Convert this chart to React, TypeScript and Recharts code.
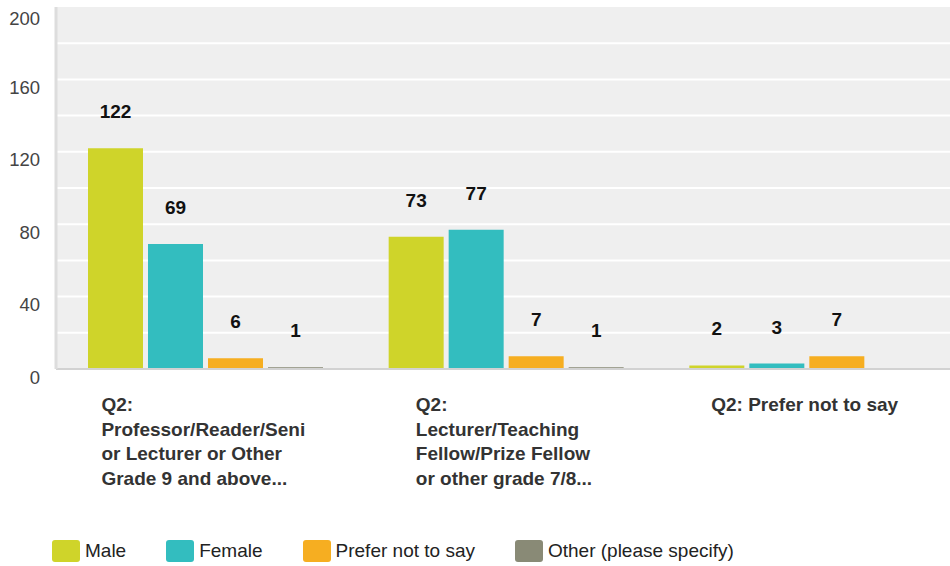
import { Bar, BarChart, CartesianGrid, LabelList, XAxis, YAxis } from "recharts"

const categories = [
  "Q2: Professor/Reader/Senior Lecturer or Other Grade 9 and above...",
  "Q2: Lecturer/Teaching Fellow/Prize Fellow or other grade 7/8...",
  "Q2: Prefer not to say",
]

// wrapped tick text as shown under each group
const tickLines = [
  ["Q2:", "Professor/Reader/Seni", "or Lecturer or Other", "Grade 9 and above..."],
  ["Q2:", "Lecturer/Teaching", "Fellow/Prize Fellow", "or other grade 7/8..."],
  ["Q2: Prefer not to say"],
]

const male = [122, 73, 2]
const female = [69, 77, 3]
const preferNot = [6, 7, 7]
const other = [1, 1, null]

const yTicks = [0, 40, 80, 120, 160, 200]
const gridValues = [20, 40, 60, 80, 100, 120, 140, 160, 180]

const series = [
  { key: "male", name: "Male", color: "#CFD42A" },
  { key: "female", name: "Female", color: "#33BDBF" },
  { key: "prefer", name: "Prefer not to say", color: "#F6AE21" },
  { key: "other", name: "Other (please specify)", color: "#898A76" },
]

const data = categories.map((name, i) => ({
  name,
  male: male[i],
  female: female[i],
  prefer: preferNot[i],
  other: other[i],
}))

const FONT = "'Liberation Sans', Arial, sans-serif"
const TICK_SIZE = 19
const TICK_FONT = `bold ${TICK_SIZE}px ${FONT}`

let ctx: CanvasRenderingContext2D | null = null
function measure(s: string) {
  if (!ctx) ctx = document.createElement("canvas").getContext("2d")
  if (!ctx) return s.length * 10
  ctx.font = TICK_FONT
  return ctx.measureText(s).width
}

function CategoryTick(props: any) {
  const { x, y, index } = props
  const lines = tickLines[index] || []
  const w = Math.max(...lines.map(measure))
  const x0 = x - w / 2 - 3
  return (
    <text
      x={x0}
      y={y}
      fill="#333333"
      fontFamily={FONT}
      fontSize={TICK_SIZE}
      fontWeight="bold"
      textAnchor="start"
    >
      {lines.map((l, i) => (
        <tspan key={i} x={x0} y={y + 40 + i * 24.7}>
          {l}
        </tspan>
      ))}
    </text>
  )
}

export default function App() {
  return (
    <div
      style={{
        position: "absolute",
        left: 0,
        top: 0,
        width: 950,
        height: 566,
        overflow: "hidden",
        background: "#fff",
        fontFamily: FONT,
      }}
    >
      <BarChart
        width={960}
        height={566}
        data={data}
        margin={{ top: 7, right: 2, left: 0, bottom: 77 }}
        barCategoryGap={32}
        barGap={5}
      >
        <CartesianGrid
          vertical={false}
          fill="#EFEFEF"
          stroke="#FFFFFF"
          strokeWidth={2}
          horizontalValues={gridValues}
        />
        <XAxis
          dataKey="name"
          interval={0}
          height={120}
          tickLine={false}
          tickSize={0}
          axisLine={{ stroke: "#D2D2D2", strokeWidth: 2 }}
          tick={<CategoryTick />}
        />
        <YAxis
          width={56}
          domain={[0, 200]}
          ticks={yTicks}
          tickLine={false}
          tickSize={0}
          tickMargin={16}
          axisLine={{ stroke: "#DDDDDD", strokeWidth: 3 }}
          tick={{ fill: "#444444", fontSize: 18.5, fontFamily: FONT, dy: 8 }}
        />
        {series.map((s) => (
          <Bar key={s.key} dataKey={s.key} name={s.name} fill={s.color} isAnimationActive={false}>
            <LabelList
              dataKey={s.key}
              position="top"
              offset={30}
              fill="#111111"
              fontSize={19}
              fontWeight="bold"
              fontFamily={FONT}
            />
          </Bar>
        ))}
      </BarChart>
      <div
        style={{
          position: "absolute",
          left: 52,
          top: 540,
          display: "flex",
          alignItems: "center",
        }}
      >
        {series.map((s) => (
          <div key={s.key} style={{ display: "flex", alignItems: "center", marginRight: 40 }}>
            <div
              style={{
                width: 28,
                height: 22,
                borderRadius: 3,
                background: s.color,
                marginRight: 5,
              }}
            />
            <span style={{ fontSize: 19, color: "#222222", lineHeight: "22px" }}>{s.name}</span>
          </div>
        ))}
      </div>
    </div>
  )
}
